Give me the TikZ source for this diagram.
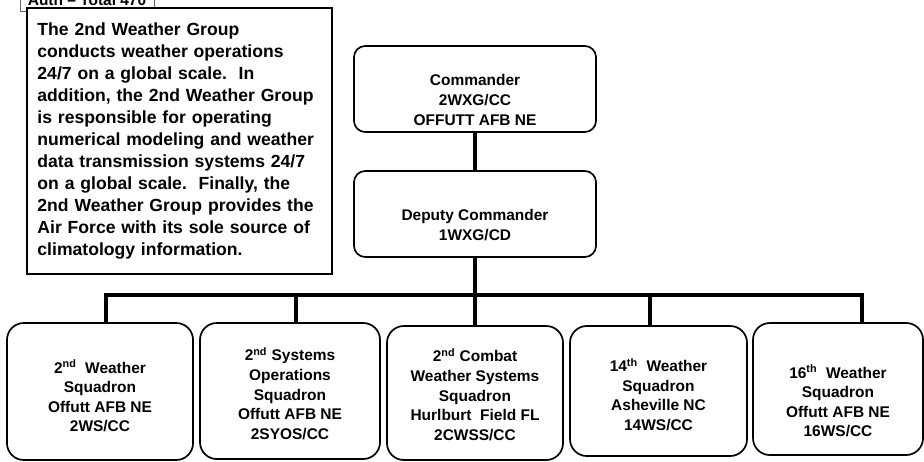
\documentclass[tikz,border=0pt]{standalone}
\usepackage{fontspec}
\setmainfont{Liberation Sans}
\usepackage{tikz}
\usetikzlibrary{positioning, calc}

\begin{document}
\begin{tikzpicture}[
  x=0.025cm, y=-0.025cm,
  unit/.style={draw, line width=1.2pt, rounded corners=12pt, inner sep=0pt},
  cmdbox/.style={unit, rounded corners=8pt, minimum width=6.05cm, minimum height=2.15cm},
  boxtext/.style={align=center, inner sep=0pt, font=\fontsize{11}{13.9}\selectfont\bfseries},
  link/.style={line width=2.2pt},
  missionbox/.style={draw, line width=1.5pt, minimum width=7.625cm, minimum height=6.65cm,
                     text width=7.1cm, align=left, font=\fontsize{12.5}{15.6}\selectfont\bfseries},
  authbox/.style={draw=gray!80!black, line width=0.6pt, minimum width=3.35cm, inner ysep=4pt,
                  font=\fontsize{11}{13}\selectfont\bfseries}
]
\useasboundingbox (0,0) rectangle (924,461);
\clip (0,0) rectangle (924,461);

% Header tag and mission statement
\node[authbox, anchor=south] (auth) at (87,12) {Auth -- Total 470};
\node[missionbox, fill=white] (mission) at (179.5,141) {The 2nd Weather Group\\
conducts weather operations\\
24/7 on a global scale.\ \ In\\
addition, the 2nd Weather Group\\
is responsible for operating\\
numerical modeling and weather\\
data transmission systems 24/7\\
on a global scale.\ \ Finally, the\\
2nd Weather Group provides the\\
Air Force with its sole source of\\
climatology information.};

% Command section
\node[cmdbox] (cmd) at (475,89) {};
\node[boxtext] (cmdtext) at (475,100) {Commander\\2WXG/CC\\OFFUTT AFB NE};
\node[cmdbox] (dep) at (475,214) {};
\node[boxtext] (deptext) at (475,225) {Deputy Commander\\1WXG/CD};

% Squadrons
\node[unit, minimum width=4.65cm, minimum height=3.425cm] (sq1) at (100,391.5) {};
\node[boxtext] (sq1text) at (100,396) {2\textsuperscript{nd}\ \ Weather\\Squadron\\Offutt AFB NE\\2WS/CC};
\node[unit, minimum width=4.5cm, minimum height=3.4cm] (sq2) at (290,391) {};
\node[boxtext] (sq2text) at (290,393.5) {2\textsuperscript{nd} Systems\\Operations\\Squadron\\Offutt AFB NE\\2SYOS/CC};
\node[unit, minimum width=4.4cm, minimum height=3.35cm] (sq3) at (475,393) {};
\node[boxtext] (sq3text) at (475,394.5) {2\textsuperscript{nd} Combat\\Weather Systems\\Squadron\\Hurlburt\ \ Field FL\\2CWSS/CC};
\node[unit, minimum width=4.425cm, minimum height=3.25cm] (sq4) at (658.5,391) {};
\node[boxtext] (sq4text) at (658.5,394.5) {14\textsuperscript{th}\ \ Weather\\Squadron\\Asheville NC\\14WS/CC};
\node[unit, minimum width=4.25cm, minimum height=3.3cm] (sq5) at (838,389) {};
\node[boxtext] (sq5text) at (838,401) {16\textsuperscript{th}\ \ Weather\\Squadron\\Offutt AFB NE\\16WS/CC};

% Bus line
\coordinate (bus1) at (106,295);
\coordinate (bus2) at (296,295);
\coordinate (bus3) at (475,295);
\coordinate (bus4) at (650,295);
\coordinate (bus5) at (862,295);

\draw[link] (cmd) -- (dep);
\draw[link] (dep) -- (bus3);
\draw[link, line cap=rect] (bus1) -- (bus5);
\foreach \i in {1,...,5}
  \draw[link] (bus\i) -- (bus\i |- sq\i.north);

\end{tikzpicture}
\end{document}
